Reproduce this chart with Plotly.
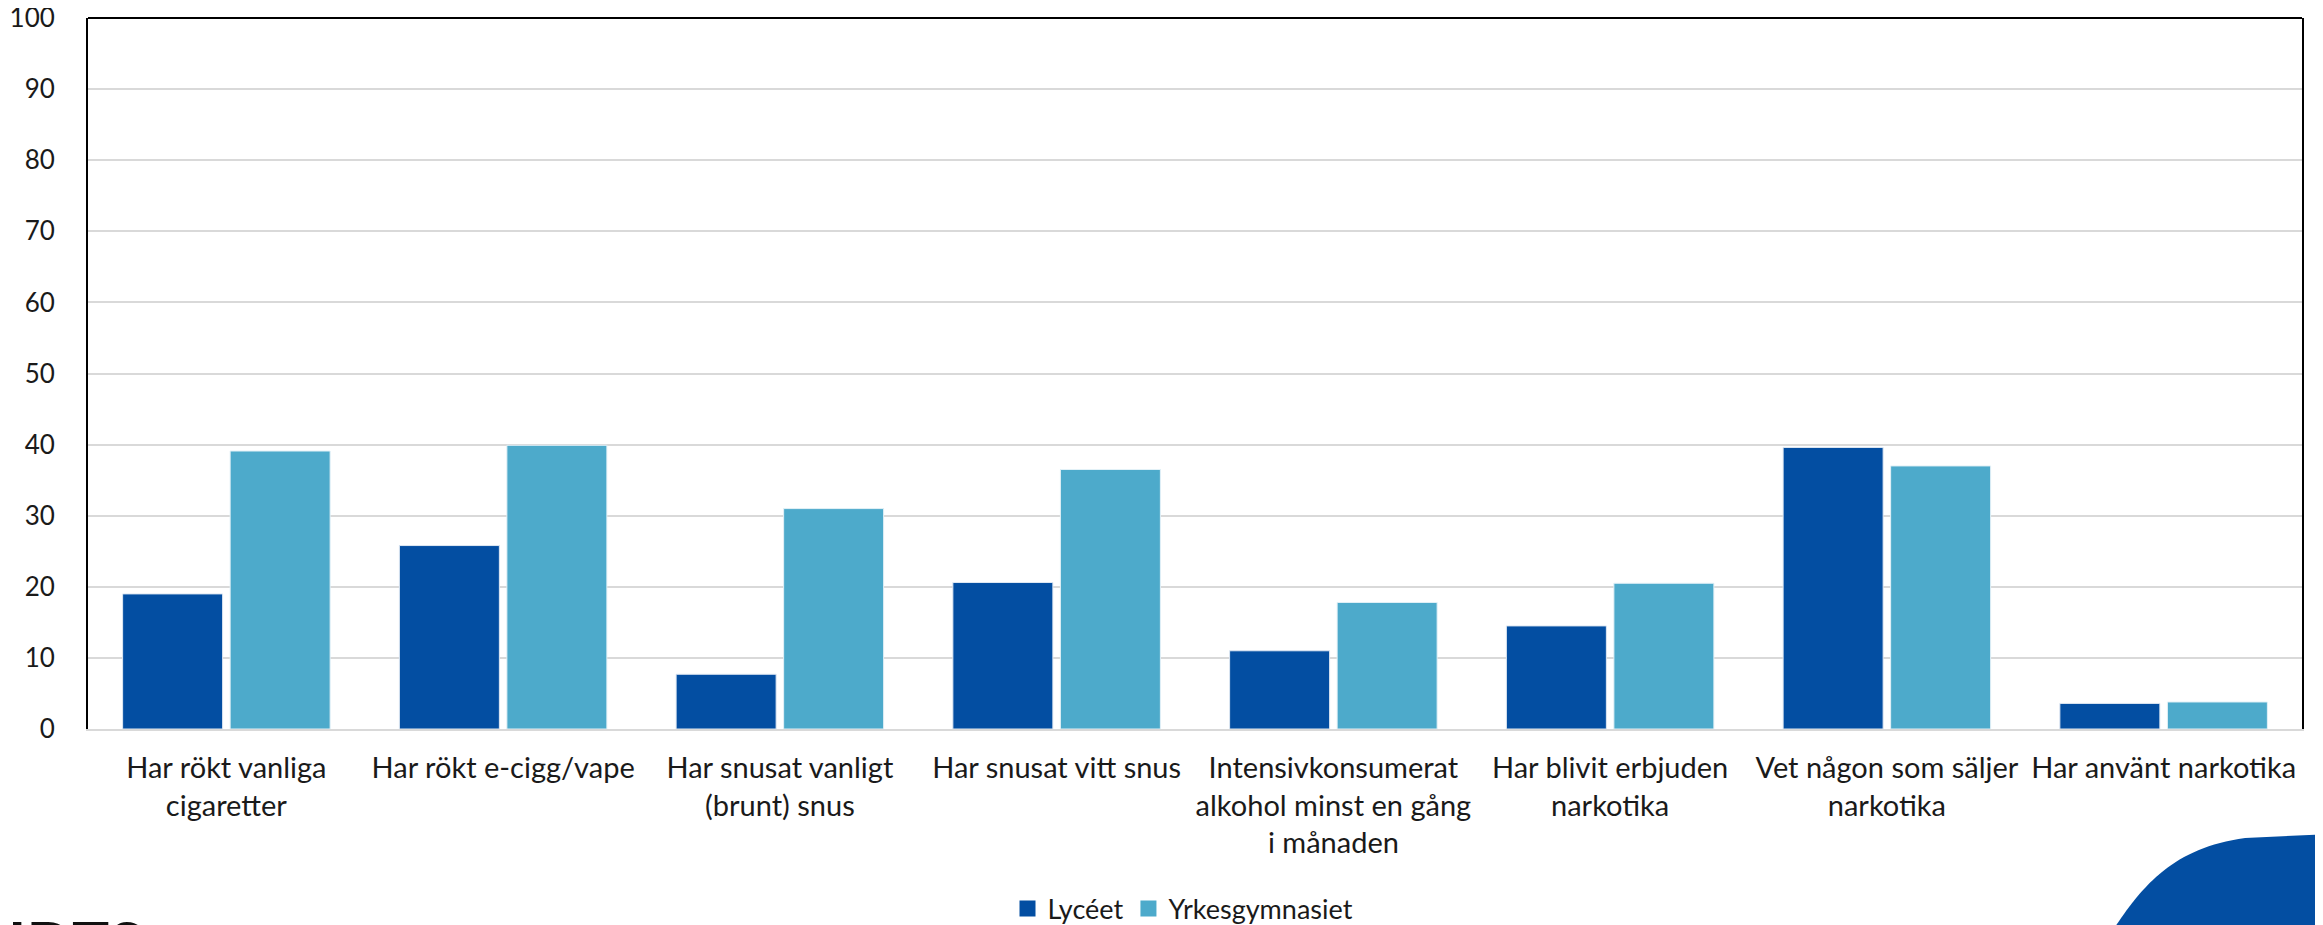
import plotly.graph_objects as go

# ---------------------------------------------------------------------------
# Data (percent)
# ---------------------------------------------------------------------------
categories = [
    "Har rökt vanliga<br>cigaretter",
    "Har rökt e-cigg/vape",
    "Har snusat vanligt<br>(brunt) snus",
    "Har snusat vitt snus",
    "Intensivkonsumerat<br>alkohol minst en gång<br>i månaden",
    "Har blivit erbjuden<br>narkotika",
    "Vet någon som säljer<br>narkotika",
    "Har använt narkotika",
]
lyceet = [19.0, 25.8, 7.7, 20.6, 11.0, 14.5, 39.6, 3.6]
yrkesgymnasiet = [39.1, 39.9, 31.0, 36.5, 17.8, 20.5, 37.0, 3.8]
y_ticks = list(range(0, 101, 10))

FONT = "Lato"
TXT = "#1a1a1a"
DARK = "#034EA2"
LIGHT = "#4DAACB"

# the page body has an 8px margin, so the figure is drawn 8px smaller
OFF = 8
W, H = 2323 - OFF, 925 - OFF
# plot area in screen pixels
L, R, T, B = 88, 2302, 18, 729


def px_x(x):
    return (x - L) / (R - L)


def px_y(y):
    return (B - y) / (B - T)


fig = go.Figure()
fig.add_trace(go.Bar(
    x=categories, y=lyceet, name="Lycéet", showlegend=False,
    marker=dict(color=DARK, line=dict(color="#dfe8f3", width=1)),
))
fig.add_trace(go.Bar(
    x=categories, y=yrkesgymnasiet, name="Yrkesgymnasiet", showlegend=False,
    marker=dict(color=LIGHT, line=dict(color="#e3f1f7", width=1)),
))

# legend entries with bigger square swatches
for name, col in [("Lycéet", DARK), ("Yrkesgymnasiet", LIGHT)]:
    fig.add_trace(go.Scatter(
        x=[None], y=[None], mode="markers", name=name,
        marker=dict(symbol="square", size=18, color=col),
    ))

fig.update_layout(
    width=W, height=H,
    margin=dict(l=L - OFF, r=2323 - R, t=T - OFF, b=925 - B, autoexpand=False),
    paper_bgcolor="white", plot_bgcolor="white",
    barmode="group", bargap=0.223, bargroupgap=0.07,
    font=dict(family=FONT, size=26, color=TXT),
    showlegend=True,
    legend=dict(
        orientation="h", x=px_x(1183), y=px_y(909),
        xanchor="center", yanchor="middle",
        font=dict(size=27), itemwidth=30, traceorder="normal",
    ),
    xaxis=dict(
        showline=True, linecolor="#d9d9d9", linewidth=2,
        ticks="", ticklabelstandoff=12, tickangle=0,
        tickfont=dict(size=29),
    ),
    yaxis=dict(
        range=[0, 100], tickvals=y_ticks,
        showgrid=True, gridcolor="#d9d9d9", gridwidth=2,
        showline=True, linecolor="black", linewidth=2, mirror=True,
        zeroline=False, ticks="", ticklabelstandoff=26,
        ticklabeloverflow="allow",
        tickfont=dict(size=26),
    ),
)

# black top border of the plot frame
fig.add_shape(type="line", xref="paper", yref="paper", x0=0, x1=1, y0=1, y1=1,
              line=dict(color="black", width=2))

# blue swoosh of the logo, bottom right
p = lambda x, y: f"{px_x(x):.4f},{px_y(y):.4f}"
swoosh = (f"M {p(2113, 930)} C {p(2140, 890)} {p(2170, 848)} {p(2245, 838)} "
          f"L {p(2330, 834)} L {p(2330, 930)} Z")
fig.add_shape(type="path", xref="paper", yref="paper", path=swoosh,
              fillcolor=DARK, line=dict(width=0), layer="above")

# cropped logo text, bottom left
fig.add_annotation(
    xref="paper", yref="paper", x=px_x(6), y=px_y(903),
    xanchor="left", yanchor="top", showarrow=False,
    text="<b>IDTS</b>", font=dict(family=FONT, size=62, color="#111111"),
)

fig.write_html("out.html")
